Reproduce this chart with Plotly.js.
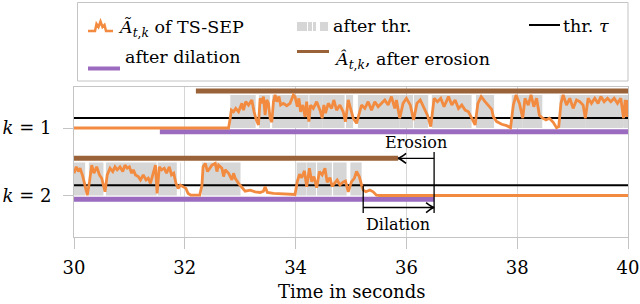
<!DOCTYPE html>
<html><head><meta charset="utf-8">
<script src="https://cdn.plot.ly/plotly-3.0.1.min.js"></script>
<style>html,body{margin:0;padding:0;background:#fff}#chart{width:640px;height:304px}</style>
</head><body><div id="chart"></div>
<script>
// ---------------- data ----------------
const xTicks = [30, 32, 34, 36, 38, 40];
const rowLabels = ['<i>k</i> = 1', '<i>k</i> = 2'];
const xTitle = 'Time in seconds';
const tau = 0.3;
// [time (s), activity Ã_{t,k}] for k = 1
const activityK1 = [[30,0],[32.79,0],[32.82,0.29],[32.84,0.53],[32.88,0.48],[32.92,0.58],[32.97,0.48],[33.03,0.73],[33.06,0.53],[33.10,0.78],[33.15,0.68],[33.21,0.83],[33.25,0.48],[33.29,0.24],[33.33,0.09],[33.36,0.88],[33.39,0.73],[33.42,0.93],[33.45,0.38],[33.48,0.83],[33.51,0.73],[33.54,0.29],[33.57,0.17],[33.60,0.78],[33.63,0.98],[33.66,0.78],[33.70,0.93],[33.73,0.68],[33.78,0.73],[33.84,0.66],[33.90,0.73],[33.96,0.98],[33.99,0.93],[34.03,0.63],[34.06,0.88],[34.09,0.48],[34.13,0.68],[34.17,0.33],[34.20,0.78],[34.24,0.19],[34.27,0.68],[34.32,0.58],[34.38,0.78],[34.44,0.53],[34.48,0.29],[34.51,0.68],[34.54,0.44],[34.59,0.73],[34.65,0.58],[34.69,0.83],[34.74,0.53],[34.80,0.68],[34.86,0.48],[34.90,0.19],[34.95,0.83],[34.99,0.55],[35.04,0.29],[35.10,0.14],[35.16,0.53],[35.19,0.68],[35.25,0.58],[35.31,0.78],[35.37,0.53],[35.43,0.78],[35.49,0.63],[35.55,0.73],[35.61,0.83],[35.67,0.68],[35.73,0.93],[35.79,0.58],[35.82,0.83],[35.88,0.29],[35.94,0.73],[36.00,0.88],[36.07,0.68],[36.13,0.24],[36.19,0.73],[36.25,0.83],[36.31,0.63],[36.38,0.38],[36.44,0.04],[36.50,0.88],[36.56,0.78],[36.62,0.88],[36.68,0.63],[36.76,0.93],[36.82,0.68],[36.88,0.83],[36.94,0.58],[37.00,0.68],[37.06,0.53],[37.12,0.48],[37.18,0.29],[37.24,0.09],[37.29,0.73],[37.35,0.93],[37.42,0.78],[37.48,0.68],[37.54,0.55],[37.57,0.33],[37.63,0.19],[37.72,0.11],[37.81,0.07],[37.88,0.01],[37.93,0.68],[37.98,0.98],[38.04,0.73],[38.10,0.29],[38.14,0.88],[38.20,0.68],[38.25,0.98],[38.30,0.63],[38.35,0.88],[38.40,0.38],[38.46,0.29],[38.52,0.24],[38.58,0.29],[38.65,0.17],[38.71,0.01],[38.75,0.04],[38.79,0.73],[38.83,0.98],[38.89,0.68],[38.95,0.88],[39.01,0.58],[39.07,0.83],[39.13,0.78],[39.19,0.68],[39.23,0.29],[39.28,0.88],[39.34,0.73],[39.40,0.88],[39.46,0.73],[39.51,0.93],[39.57,0.78],[39.63,0.88],[39.69,0.78],[39.75,0.88],[39.81,0.73],[39.87,0.88],[39.92,0.29],[39.95,0.83],[39.98,0.33],[40.00,0.83]];
// [time (s), activity Ã_{t,k}] for k = 2
const activityK2 = [[30.00,0.66],[30.04,0.85],[30.08,0.71],[30.11,0.81],[30.16,0.56],[30.20,0.31],[30.24,0.01],[30.28,0.41],[30.32,0.90],[30.36,0.66],[30.41,0.85],[30.46,0.61],[30.50,0.51],[30.53,0.31],[30.56,0.11],[30.60,0.61],[30.65,0.81],[30.70,0.71],[30.74,0.85],[30.78,0.76],[30.83,0.85],[30.88,0.71],[30.92,0.90],[30.96,0.81],[31.00,0.85],[31.04,0.66],[31.07,0.76],[31.11,0.61],[31.16,0.56],[31.20,0.46],[31.25,0.61],[31.30,0.46],[31.34,0.51],[31.38,0.36],[31.43,0.66],[31.47,0.90],[31.50,0.06],[31.54,0.85],[31.58,0.76],[31.63,0.81],[31.67,0.66],[31.72,0.85],[31.76,0.61],[31.80,0.66],[31.84,0.36],[31.88,0.21],[31.92,0.31],[31.97,0.26],[32.02,0.21],[32.06,0.06],[32.11,0.01],[32.27,0.01],[32.31,0.31],[32.33,0.85],[32.37,0.95],[32.41,0.71],[32.46,0.85],[32.49,0.90],[32.55,0.95],[32.58,0.71],[32.61,0.90],[32.67,0.81],[32.70,0.56],[32.73,0.76],[32.79,0.66],[32.85,0.46],[32.88,0.66],[32.91,0.51],[32.97,0.36],[33.03,0.26],[33.09,0.13],[33.18,0.16],[33.27,0.11],[33.36,0.09],[33.42,0.13],[33.45,0.26],[33.49,0.09],[33.60,0.06],[33.72,0.05],[33.84,0.03],[33.99,0.03],[34.03,0.41],[34.07,0.63],[34.11,0.53],[34.16,0.73],[34.20,0.26],[34.25,0.81],[34.29,0.41],[34.33,0.56],[34.38,0.23],[34.43,0.71],[34.48,0.61],[34.53,0.81],[34.57,0.39],[34.62,0.53],[34.66,0.27],[34.71,0.36],[34.75,0.46],[34.80,0.31],[34.85,0.39],[34.90,0.43],[34.95,0.11],[35.01,0.41],[35.06,0.51],[35.10,0.71],[35.15,0.56],[35.19,0.31],[35.22,0.16],[35.27,0.11],[35.34,0.16],[35.40,0.11],[35.46,0.01],[35.52,0],[40,0]];
// dilation / erosion intervals [start, end] in seconds
const dilationK1 = [31.55, 40];
const erosionK1 = [32.2, 40];
const dilationK2 = [30, 36.5];
const erosionK2 = [30, 35.85];
const lastActiveK2 = 35.22;

// ---------------- style ----------------
const C = {orange:'#F28B3F', purple:'#9A6BBF', brown:'#9A6239', gray:'#D6D6D6', frame:'#C4C4C4', grid:'#D6D6D6'};
const FONT = 'DejaVu Serif';
const base = [2, 0];        // band offsets for k=1, k=2
const grayH = 0.98, brownOff = 1.1, purpleOff = -0.11;

function activeIntervals(pts) {
  const out = []; let start = pts[0][1] > tau ? pts[0][0] : null;
  for (let i = 0; i < pts.length - 1; i++) {
    const [t0, a0] = pts[i], [t1, a1] = pts[i+1];
    if ((a0 > tau) !== (a1 > tau)) {
      const tc = t0 + (tau - a0) / (a1 - a0) * (t1 - t0);
      if (a1 > tau) start = tc; else { out.push([start, tc]); start = null; }
    }
  }
  if (start !== null) out.push([start, pts[pts.length-1][0]]);
  return out;
}
function grayTrace(pts, b) {
  const x = [], y = [];
  activeIntervals(pts).forEach(([s, e]) => { x.push(s, s, e, e, null); y.push(b, b+grayH, b+grayH, b, null); });
  return {x, y, type:'scatter', mode:'lines', fill:'toself', fillcolor:C.gray, line:{width:0, color:'rgba(0,0,0,0)'}, hoverinfo:'skip', showlegend:false};
}
function hline(xs, yv, color, w) {
  return {x:xs, y:[yv, yv], type:'scatter', mode:'lines', line:{color, width:w}, hoverinfo:'skip', showlegend:false};
}
function sig(pts, b) {
  return {x:pts.map(p=>p[0]), y:pts.map(p=>b+p[1]), type:'scatter', mode:'lines', line:{color:C.orange, width:2.8}, hoverinfo:'skip', showlegend:false};
}

const traces = [
  grayTrace(activityK1, base[0]), grayTrace(activityK2, base[1]),
  hline([30,40], base[0]+tau, '#000', 2), hline([30,40], base[1]+tau, '#000', 2),
  hline(dilationK1, base[0]+purpleOff, C.purple, 5), hline(dilationK2, base[1]+purpleOff, C.purple, 5),
  hline(erosionK1, base[0]+brownOff, C.brown, 5), hline(erosionK2, base[1]+brownOff, C.brown, 5),
  sig(activityK1, base[0]), sig(activityK2, base[1])
];

// pixel helpers (plot area 74..628 x 87..237; x: 55.4 px/s, y: 33.75 px/unit)
const PX = px => (px - 74) / 554, PY = py => (237 - py) / 150;
const DX = px => px / 55.4, DY = py => py / 33.75;
const shapes = [];
const ann = [];
shapes.push({type:'rect', xref:'paper', yref:'paper', x0:PX(77.5), x1:PX(628), y0:PY(81), y1:PY(2.5), line:{color:C.frame, width:1}, fillcolor:'#fff', layer:'above'});
const sq = [[88,31],[95,31],[96.5,24],[98.5,27],[100.5,21.5],[102.5,27],[104.5,25],[106,31],[113,31]];
shapes.push({type:'path', xref:'paper', yref:'paper', path:'M' + sq.map(p=>PX(p[0])+','+PY(p[1])).join(' L'), line:{color:C.orange, width:2.5}, layer:'above'});
[[297,307],[308,312],[313,316],[320,328]].forEach(([a,b]) => shapes.push({type:'rect', xref:'paper', yref:'paper', x0:PX(a), x1:PX(b), y0:PY(31), y1:PY(22), line:{width:0}, fillcolor:C.gray, layer:'above'}));
shapes.push({type:'line', xref:'paper', yref:'paper', x0:PX(529), x1:PX(560), y0:PY(25), y1:PY(25), line:{color:'#000', width:2}, layer:'above'});
shapes.push({type:'line', xref:'paper', yref:'paper', x0:PX(88), x1:PX(120), y0:PY(68.5), y1:PY(68.5), line:{color:C.purple, width:4}, layer:'above'});
shapes.push({type:'line', xref:'paper', yref:'paper', x0:PX(297), x1:PX(329), y0:PY(51.5), y1:PY(51.5), line:{color:C.brown, width:3}, layer:'above'});
const lf = {family:FONT, size:17.5, color:'#000'};
const legText = [
  [116, 28, '<i>Ã</i><sub><i>t</i>,<i>k</i></sub> of TS-SEP'],
  [331, 26, 'after thr.'],
  [561, 26, 'thr. <i>τ</i>'],
  [123, 57, 'after dilation'],
  [332, 60, '<i>Â</i><sub><i>t</i>,<i>k</i></sub>, after erosion']
];
legText.forEach(([x, y, t]) => ann.push({xref:'paper', yref:'paper', x:PX(x), y:PY(y), xanchor:'left', yanchor:'middle', text:t, showarrow:false, font:lf}));

const yE = base[1] + brownOff, yD = -0.356;
const lineStyle = {color:'#000', width:1.3};
shapes.push({type:'line', xref:'x', yref:'y', x0:dilationK2[1], x1:dilationK2[1], y0:1.29, y1:-0.52, line:lineStyle});
shapes.push({type:'line', xref:'x', yref:'y', x0:lastActiveK2, x1:lastActiveK2, y0:base[1]+tau-0.02, y1:-0.52, line:lineStyle});
shapes.push({type:'line', xref:'x', yref:'y', x0:dilationK2[1], x1:erosionK2[1], y0:yE, y1:yE, line:lineStyle});
shapes.push({type:'line', xref:'x', yref:'y', x0:lastActiveK2, x1:dilationK2[1], y0:yD, y1:yD, line:lineStyle});
function tip(x, y, dir) {
  const bx = x - dir*DX(8), mx = x - dir*DX(2.5);
  return `M${bx},${y+DY(5)} Q${mx},${y+DY(0.6)} ${x},${y} Q${mx},${y-DY(0.6)} ${bx},${y-DY(5)}`;
}
shapes.push({type:'path', xref:'x', yref:'y', path:tip(erosionK2[1], yE, -1), line:{color:'#000', width:1.6}});
shapes.push({type:'path', xref:'x', yref:'y', path:tip(dilationK2[1], yD, 1), line:{color:'#000', width:1.6}});
ann.push({x:36.17, y:1.56, xref:'x', yref:'y', text:'Erosion', showarrow:false, font:{family:FONT, size:16, color:'#000'}});
ann.push({x:35.85, y:-0.87, xref:'x', yref:'y', text:'Dilation', showarrow:false, font:{family:FONT, size:16, color:'#000'}});
// x-axis title
ann.push({xref:'paper', yref:'paper', x:0.5, y:PY(291.5), xanchor:'center', yanchor:'middle', text:xTitle, showarrow:false, font:{family:FONT, size:18, color:'#000'}});

const layout = {
  width:640, height:304,
  margin:{l:74, r:12, t:87, b:67},
  paper_bgcolor:'#fff', plot_bgcolor:'#fff',
  font:{family:FONT, size:18, color:'#000'},
  showlegend:false,
  xaxis:{range:[30,40], tickvals:xTicks, ticktext:xTicks.map(String), ticks:'outside', ticklen:11, tickcolor:C.frame, tickwidth:1,
         showgrid:true, gridcolor:C.grid, gridwidth:1, zeroline:false, showline:true, mirror:true, linecolor:C.frame, linewidth:1,
         ticklabelstandoff:3, tickfont:{family:FONT, size:18, color:'#000'}},
  yaxis:{range:[-1.23, 3.215], tickvals:base, ticktext:rowLabels, ticks:'outside', ticklen:10, tickcolor:C.frame, tickwidth:1,
         showgrid:false, zeroline:false, showline:true, mirror:true, linecolor:C.frame, linewidth:1, ticklabelstandoff:8,
         tickfont:{family:FONT, size:18, color:'#000'}},
  shapes, annotations:ann
};
Plotly.newPlot('chart', traces, layout, {staticPlot:true, displayModeBar:false});
</script></body></html>
